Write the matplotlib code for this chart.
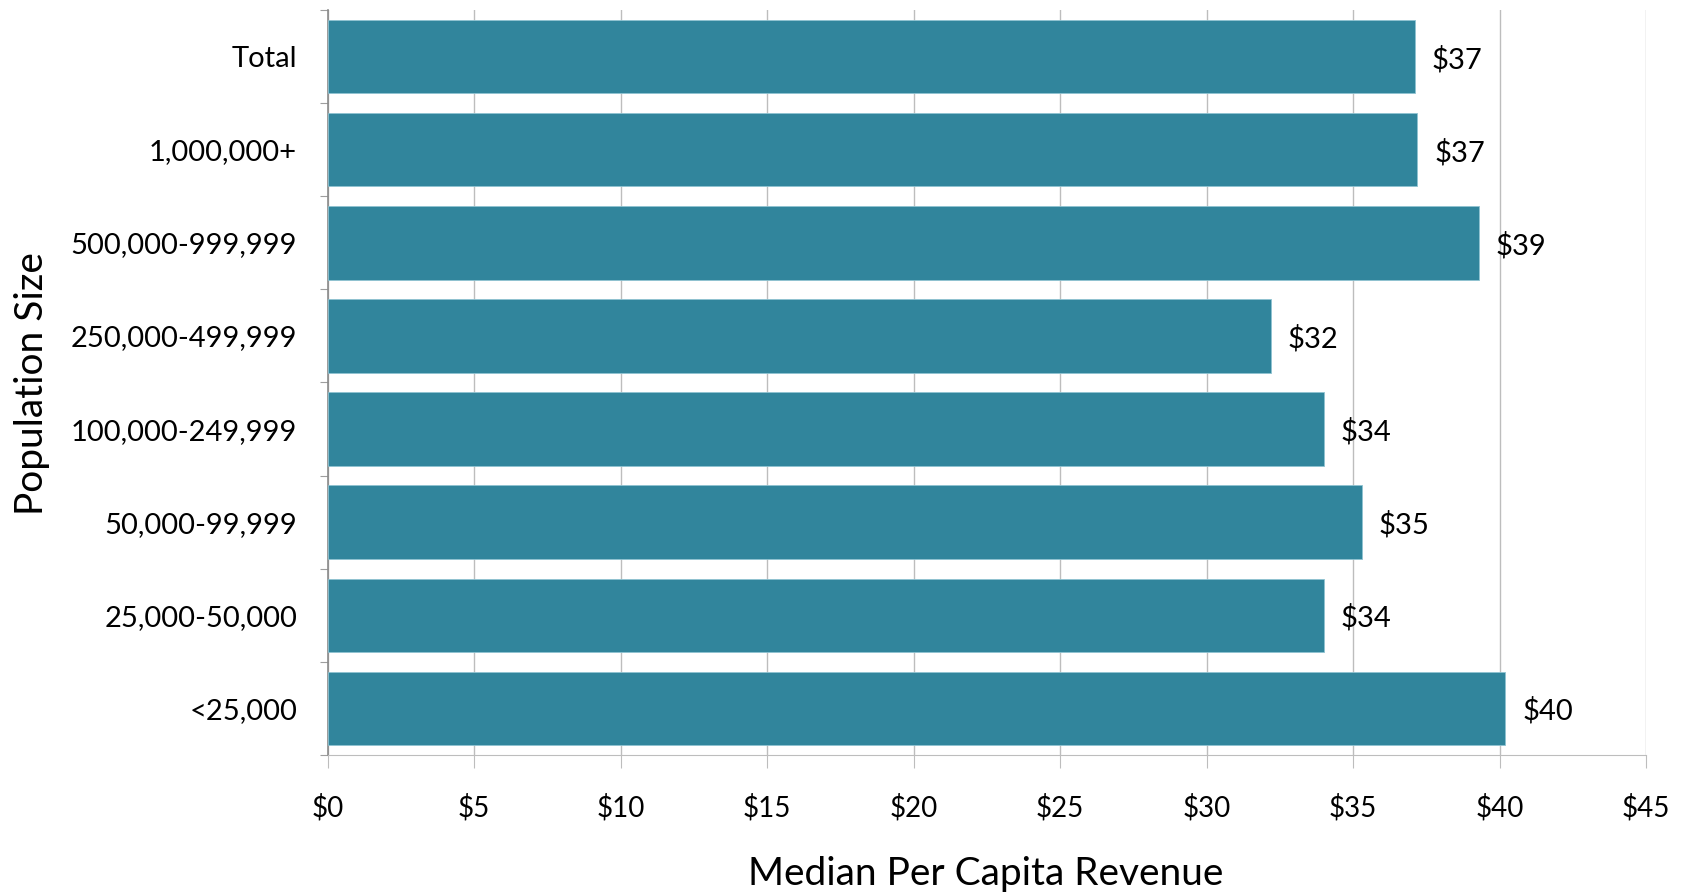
import matplotlib.pyplot as plt
from matplotlib.ticker import FixedLocator

# population size groups (top to bottom) and median per capita revenue
categories = ['Total', '1,000,000+', '500,000-999,999', '250,000-499,999',
              '100,000-249,999', '50,000-99,999', '25,000-50,000', '<25,000']
revenue = [37.1, 37.2, 39.3, 32.2, 34.0, 35.3, 34.0, 40.2]
value_labels = ['$37', '$37', '$39', '$32', '$34', '$35', '$34', '$40']
x_ticks = [0, 5, 10, 15, 20, 25, 30, 35, 40, 45]

plt.rcParams['font.family'] = ['Lato', 'DejaVu Sans']

fig = plt.figure(figsize=(16.82, 8.94), dpi=100)
ax = fig.add_axes([0.1948, 0.1555, 0.7838, 0.8333])

bar_color = '#31859c'
y = list(range(len(categories)))
ax.barh(y, revenue, height=0.79, color=bar_color, edgecolor='#8fc3d1',
        linewidth=0.6, zorder=3)

for yi, val, lab in zip(y, revenue, value_labels):
    ax.annotate(lab, (val, yi), xytext=(12, -2), textcoords='offset points',
                va='center', ha='left', fontsize=21, color='black')

ax.set_xlim(0, 45)
ax.set_ylim(len(categories) - 0.5, -0.5)

# x axis
ax.set_xticks(x_ticks)
ax.set_xticklabels(['$' + str(t) for t in x_ticks], fontsize=20)
ax.tick_params(axis='x', length=9, width=0.8, color='#bdbdbd', pad=19)
ax.grid(axis='x', color='#bdbdbd', linewidth=1.0, zorder=0)

# y axis: labels at bar centres, small ticks between bars
ax.set_yticks(y)
ax.set_yticklabels(categories, fontsize=21)
ax.tick_params(axis='y', which='major', length=0, pad=22)
ax.yaxis.set_minor_locator(FixedLocator([i - 0.5 for i in range(len(categories) + 1)]))
ax.tick_params(axis='y', which='minor', length=6, width=0.8, color='#9e9e9e')

for side in ['top', 'right']:
    ax.spines[side].set_visible(False)
ax.spines['left'].set_color('#8a8a8a')
ax.spines['left'].set_linewidth(1.2)
ax.spines['bottom'].set_color('#bdbdbd')
ax.spines['bottom'].set_linewidth(0.8)

ax.set_xlabel('Median Per Capita Revenue', fontsize=28, va='center')
ax.xaxis.set_label_coords(0.4994, -0.16)
ax.set_ylabel('Population Size', fontsize=28, va='center')
ax.yaxis.set_label_coords(-0.224, 0.498)

fig.savefig('out.png', dpi=100)
